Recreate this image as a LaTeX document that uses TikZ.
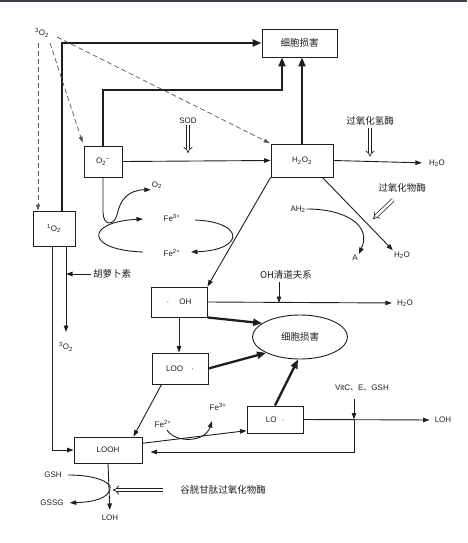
\documentclass[tikz,border=0pt]{standalone}
\usepackage{fontspec}
\setmainfont{Liberation Sans}
\newfontfamily\cjk{Noto Sans CJK SC}
\usetikzlibrary{arrows.meta,calc,shapes.geometric}
\definecolor{ink}{HTML}{1E1E1E}
\definecolor{band}{HTML}{3B4048}
\begin{document}
\begin{tikzpicture}[x=1pt,y=-1pt,
  box/.style={draw=ink, line width=0.9pt, inner sep=0pt, text=ink, font=\fontsize{8}{9.6}\selectfont},
  lbl/.style={text=ink, font=\fontsize{8}{9.6}\selectfont, inner sep=1pt},
  cn/.style={text=ink, font=\cjk\fontsize{9.5}{11}\selectfont, inner sep=2pt},
  thinarrow/.style={draw=ink, line width=0.9pt, -{Triangle[length=6.5pt,width=4.5pt]}},
  heavy/.style={draw=ink, line width=2.3pt, -{Triangle[length=9pt,width=7pt]}},
  dasharrow/.style={draw=ink!75, line width=0.7pt, dash pattern=on 5pt off 3pt, -{Triangle[length=6pt,width=4pt]}},
  dbl/.style={draw=ink, double, double distance=2.5pt, line width=0.7pt, -{Implies}}]
\useasboundingbox (0,0) rectangle (467,543);
\fill[band] (0,0) rectangle (467,2.5);

% boxes
\node[box, minimum width=75pt, minimum height=28pt, font=\cjk\fontsize{9.5}{11}\selectfont] (dmg1) at (299.5,43) {细胞损害};
\node[box, minimum width=38pt, minimum height=31pt] (o2m) at (103,161.5) {O\textsubscript{2}\textsuperscript{–}};
\node[box, minimum width=42pt, minimum height=35pt] (sing) at (54,228.5) {\textsuperscript{1}O\textsubscript{2}};
\node[box, minimum width=62pt, minimum height=33pt] (h2o2) at (302,160.5) {H\textsubscript{2}O\textsubscript{2}};
\node[box, minimum width=56pt, minimum height=30pt] (oh) at (179,302) {·\hspace{10pt}OH};
\node[box, minimum width=56pt, minimum height=31pt] (loo) at (180,368.5) {LOO\hspace{8pt}·};
\node[box, minimum width=56pt, minimum height=27pt] (lo) at (275,419.5) {LO\hspace{5pt}·};
\node[box, minimum width=68pt, minimum height=26pt] (looh) at (108,450) {LOOH};
\node[draw=ink, ellipse, line width=0.9pt, minimum width=95pt, minimum height=44pt, inner sep=0pt, cn] (dmg2) at (300,337) {细胞损害};

% labels
\node[lbl] (o3top) at (42,33) {\textsuperscript{3}O\textsubscript{2}};
\node[lbl] (sod) at (188,121) {SOD};
\node[cn] (cat) at (370,121) {过氧化氢酶};
\node[lbl] (h2oA) at (437,163) {H\textsubscript{2}O};
\node[cn] (perox) at (402,188) {过氧化物酶};
\node[lbl] (ah2) at (298,209) {AH\textsubscript{2}};
\node[lbl] (aa) at (355,258) {A};
\node[lbl] (h2oB) at (402,255) {H\textsubscript{2}O};
\node[lbl] (o2) at (157,185) {O\textsubscript{2}};
\node[lbl] (fe3) at (172,218) {Fe\textsuperscript{3+}};
\node[lbl] (fe2) at (172,253) {Fe\textsuperscript{2+}};
\node[cn] (carot) at (112,274) {胡萝卜素};
\node[lbl] (o3bot) at (66,347) {\textsuperscript{3}O\textsubscript{2}};
\node[cn] (scav) at (286,275) {OH清道夫系};
\node[lbl] (h2oC) at (405,303) {H\textsubscript{2}O};
\node[lbl] (vit) at (362,388) {VitC{\cjk 、}E{\cjk 、}GSH};
\node[lbl] (loh1) at (443,420) {LOH};
\node[lbl] (fe2b) at (163,424) {Fe\textsuperscript{2+}};
\node[lbl] (fe3b) at (218,407) {Fe\textsuperscript{3+}};
\node[lbl] (gsh) at (53,475) {GSH};
\node[lbl] (gssg) at (52,503) {GSSG};
\node[lbl] (loh2) at (110,518) {LOH};
\node[cn] (gpx) at (223,490) {谷胱甘肽过氧化物酶};

% heavy connectors to cell damage box
\coordinate (tl) at (62,43);
\draw[heavy] (sing.north -| tl) -- (tl) -- (dmg1.west);
\coordinate (c1) at (103,90);
\coordinate (c2) at (282,90);
\draw[heavy] (o2m.north) -- (c1) -- (c2) -- (c2 |- dmg1.south);
\draw[heavy] (h2o2.north) -- (h2o2.north |- dmg1.south);

% dashed from 3O2
\coordinate (d1) at (38,43);
\draw[dasharrow] (d1) -- (d1 |- sing.north);
\coordinate (d2) at (50,43);
\draw[dasharrow, shorten >=3pt] (d2) -- (o2m.north west);
\coordinate (d3) at (57,37);
\draw[dasharrow, shorten >=1pt] (d3) -- (h2o2.north west);

% superoxide / peroxide
\draw[thinarrow] (o2m.east) -- (h2o2.west);
\draw[thinarrow, shorten >=6pt] (h2o2.east) -- (h2oA.west);
\draw[dbl] (sod.south) -- ++(0,28);
\draw[dbl] (cat.south) -- ++(0,29);
\coordinate (px1) at (393,200);
\draw[dbl] (px1) -- ++(-20,19);
\draw[thinarrow] ([xshift=-11pt]h2o2.south east) -- (h2oB.north west);
\draw[thinarrow] (ah2.east) .. controls (345,209) and (372,225) .. (aa.north east);
\draw[thinarrow] (h2o2.south west) -- (oh.north east);

% O2 release and iron cycle
\draw[thinarrow] (o2m.south) -- (103,212) .. controls (103,226) and (114,226) .. (117,215) .. controls (120,200) and (128,190) .. (o2.south west);
\coordinate (e1) at (143,252);
\coordinate (e2) at (143,219);
\coordinate (e3) at (195,220);
\coordinate (e4) at (191,252);
\draw[thinarrow] (e1) .. controls (85,250) and (85,222) .. (e2);
\draw[thinarrow] (e3) .. controls (245,222) and (245,250) .. (e4);

% singlet oxygen
\coordinate (v1) at (52,450);
\draw[thinarrow] (sing.south -| v1) -- (v1) -- (looh.west);
\coordinate (v2) at (66,332);
\draw[thinarrow] (sing.south -| v2) -- (v2);
\draw[thinarrow] (carot.west) -- (carot.west -| v2);

% hydroxyl radical
\draw[thinarrow, shorten >=4pt] (oh.east) -- (h2oC.west);
\coordinate (sc) at (279,303);
\draw[thinarrow] (sc |- scav.south) -- (sc);
\draw[heavy] (oh.south east) -- (dmg2.160);
\draw[heavy] (loo.east) -- (dmg2.205);
\draw[heavy] (lo.north) -- (dmg2.265);
\draw[thinarrow] (oh.south) -- (oh.south |- loo.north);
\draw[thinarrow] ([xshift=10pt]loo.south west) -- ([xshift=-9pt]looh.north east);

% lipid peroxides
\draw[thinarrow] ($(looh.north east)!0.25!(looh.south east)$) -- ($(lo.north west)!0.9!(lo.south west)$);
\coordinate (f1) at (167,430);
\coordinate (f2) at (212,421);
\draw[thinarrow] (f1) .. controls (175,443) and (205,443) .. (f2);
\draw[thinarrow, shorten >=4pt] (lo.east) -- (loh1.west);
\coordinate (j) at (354,419.5);
\draw[thinarrow, shorten <=7pt] (vit.south -| j) -- (j);
\coordinate (k) at (354,452);
\draw[thinarrow, shorten >=8pt] (j) -- (k) -- (k -| looh.east);
\draw[thinarrow, shorten >=4pt] (looh.south) -- (loh2.north);
\draw[thinarrow, shorten <=5pt, shorten >=5pt] (gsh.east) .. controls (100,475) and (112,484) .. (110,489) .. controls (108,498) and (95,502) .. (gssg.east);
\coordinate (g1) at (163,490);
\draw[dbl, shorten >=5pt] (g1) -- (g1 -| looh.south);
\end{tikzpicture}
\end{document}
